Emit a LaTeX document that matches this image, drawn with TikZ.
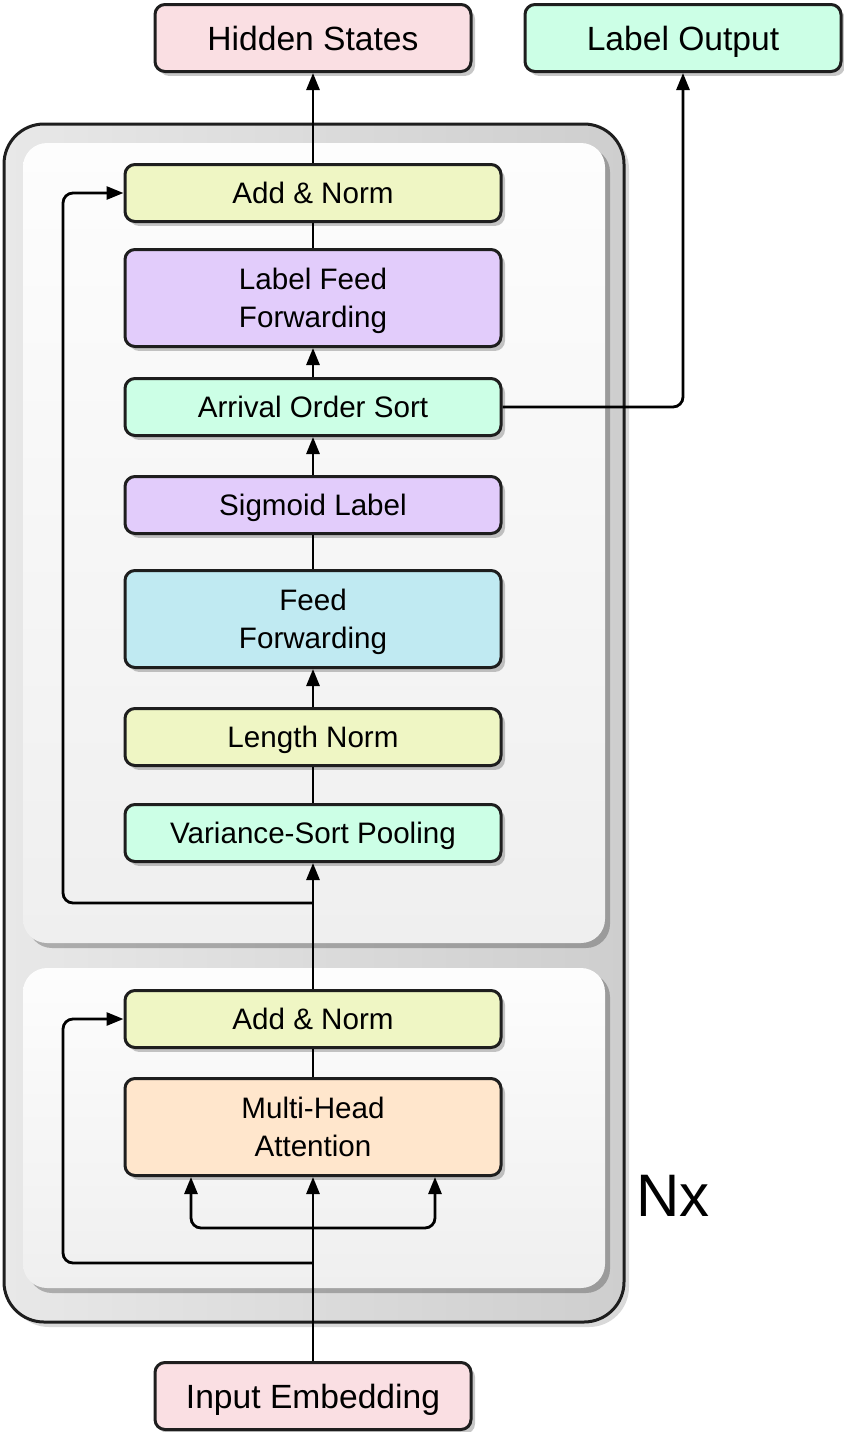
\documentclass[tikz,border=0pt]{standalone}
\usepackage{fontspec}
\setmainfont{Liberation Sans}
\usetikzlibrary{arrows.meta,shadows,calc}
\definecolor{pinkbox}{RGB}{250,223,227}
\definecolor{mintbox}{RGB}{204,255,230}
\definecolor{yellowbox}{RGB}{239,246,196}
\definecolor{lavbox}{RGB}{226,204,251}
\definecolor{bluebox}{RGB}{192,234,242}
\definecolor{peachbox}{RGB}{255,230,204}
\definecolor{edge}{RGB}{30,30,30}
\begin{document}
\begin{tikzpicture}[x=0.5pt,y=-0.5pt,
  box/.style={draw=edge, line width=1.5pt, rounded corners=5pt,
    minimum width=188pt, minimum height=28.5pt, align=center, inner sep=0pt,
    text depth=0pt,
    font=\fontsize{14.8}{19}\selectfont,
    drop shadow={shadow xshift=2pt, shadow yshift=-2.2pt, fill=black, opacity=0.22}},
  tallbox/.style={box, minimum height=48.5pt},
  iobox/.style={box, minimum width=158pt, minimum height=33.5pt, font=\fontsize{16.8}{20}\selectfont},
  conn/.style={draw=black, line width=1.4pt, rounded corners=5pt},
  arr/.style={conn, -{Triangle[length=8.5pt,width=6.5pt]}},
  container/.style={rounded corners=12pt, top color={rgb,255:red,253;green,253;blue,253}, bottom color={rgb,255:red,239;green,239;blue,239},
    drop shadow={shadow xshift=2.5pt, shadow yshift=-2.5pt, fill=black, opacity=0.25}},
]
\useasboundingbox (0,0) rectangle (844,1432);
% outer Nx box
\path[rounded corners=20pt, left color={rgb,255:red,232;green,232;blue,232}, right color={rgb,255:red,206;green,206;blue,206},
  draw=edge, line width=1.5pt,
  drop shadow={shadow xshift=2.5pt, shadow yshift=-2.5pt, fill=black, opacity=0.15}]
  (4,124) rectangle (624,1322);
\path[container] (23,143) rectangle (605,943);
\path[container] (23,968) rectangle (605,1288);

% nodes
\node[iobox, fill=pinkbox] (hs) at (313,38) {Hidden States};
\node[iobox, fill=mintbox] (lo) at (683,38) {Label Output};
\node[box, fill=yellowbox] (an1) at (313,193) {Add \& Norm};
\node[tallbox, fill=lavbox] (lff) at (313,298) {Label Feed\\Forwarding};
\node[box, fill=mintbox] (aos) at (313,407) {Arrival Order Sort};
\node[box, fill=lavbox] (sl) at (313,505) {Sigmoid Label};
\node[tallbox, fill=bluebox] (ff) at (313,619) {Feed\\Forwarding};
\node[box, fill=yellowbox] (ln) at (313,737) {Length Norm};
\node[box, fill=mintbox] (vsp) at (313,833) {Variance-Sort Pooling};
\node[box, fill=yellowbox] (an2) at (313,1019) {Add \& Norm};
\node[tallbox, fill=peachbox] (mha) at (313,1127) {Multi-Head\\Attention};
\node[iobox, fill=pinkbox] (ie) at (313,1396) {Input Embedding};
\node[font=\fontsize{30}{34}\selectfont, inner sep=0pt] (nx) at (673,1196) {Nx};

\coordinate (s1) at (313,903);
\coordinate (s2) at (313,1263);
\coordinate (br) at (313,1228);

% connectors
\draw[arr] (an1) -- (hs);
\draw[conn] (lff) -- (an1);
\draw[arr] (aos) -- (lff);
\draw[arr] (sl) -- (aos);
\draw[conn] (ff) -- (sl);
\draw[arr] (ln) -- (ff);
\draw[conn] (vsp) -- (ln);
\draw[arr] (an2) -- (vsp);
\draw[arr] (aos.east) -| (lo.south);
\draw[arr] (s1) -- ++(-250,0) |- (an1.west);
\draw[conn] (mha) -- (an2);
\draw[arr] (ie) -- (mha);
\draw[arr] (br) -| ([xshift=-61pt]mha.south);
\draw[arr] (br) -| ([xshift=61pt]mha.south);
\draw[arr] (s2) -- ++(-250,0) |- (an2.west);
\end{tikzpicture}
\end{document}
